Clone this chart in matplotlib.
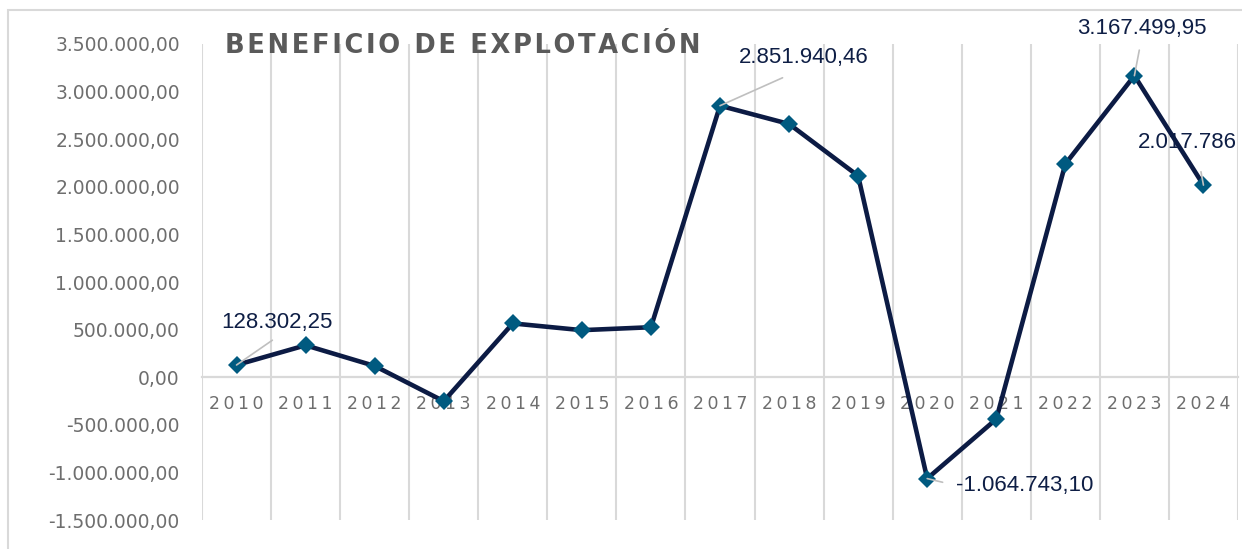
import matplotlib.pyplot as plt
from matplotlib.ticker import FuncFormatter, FixedLocator
from matplotlib.patches import Rectangle

# values (2010-2024)
years = ["2010", "2011", "2012", "2013", "2014", "2015", "2016", "2017",
         "2018", "2019", "2020", "2021", "2022", "2023", "2024"]
beneficio = [128302.25, 335000, 118000, -252000, 565000, 494000, 525000,
             2851940.46, 2660000, 2115000, -1064743.10, -440000, 2240000,
             3167499.95, 2017786]

# only some points carry a label in the original
label_idx = [0, 7, 10, 13, 14]
label_txt = ["128.302,25", "2.851.940,46", "-1.064.743,10", "3.167.499,95", "2.017.786"]

line_col = "#0c1b44"
mark_col = "#005a80"
grid_col = "#d9d9d9"
tick_col = "#6e6e6e"
lab_col = "#0e1e45"


def es_fmt(v, pos=None):
    s = f"{v:,.2f}"
    return s.replace(",", "X").replace(".", ",").replace("X", ".")


fig = plt.figure(figsize=(12.42, 5.49), dpi=100)
ax = fig.add_axes([202 / 1242, 1 - 520 / 549, 1036 / 1242, 476 / 549])

x = list(range(len(years)))
ax.plot(x, beneficio, color=line_col, lw=3.3, marker="D", ms=9,
        mfc=mark_col, mec=mark_col, mew=0, zorder=3)

ax.set_xlim(-0.5, len(years) - 0.5)
ax.set_ylim(-1500000, 3500000)
ax.set_yticks(range(-1500000, 3500001, 500000))
ax.yaxis.set_major_formatter(FuncFormatter(es_fmt))

# category labels with letter spacing
ax.set_xticks(x)
ax.set_xticklabels(["\u2009".join(y) for y in years])
ax.xaxis.set_minor_locator(FixedLocator([i - 0.5 for i in range(len(years) + 1)]))
ax.grid(True, which="minor", axis="x", color=grid_col, lw=1.5)
ax.grid(False, which="major")

for s in ["top", "right", "left"]:
    ax.spines[s].set_visible(False)
ax.spines["bottom"].set_position(("data", 0))
ax.spines["bottom"].set_color(grid_col)
ax.spines["bottom"].set_linewidth(1.6)

ax.tick_params(axis="x", which="both", length=0, pad=13, labelcolor=tick_col)
ax.tick_params(axis="y", length=0, pad=16, labelcolor=tick_col, labelsize=13.5)
for t in ax.get_xticklabels():
    t.set_fontfamily("DejaVu Sans")
    t.set_fontsize(12.5)

# data labels with leader lines
offsets = [(40, 42), (84, 48), (29, -7), (7, 47), (-16, 43)]
relpos = [(0.55, 0), (0.5, 0), (0, 0.5), (0.5, 0), (0.6, 0)]
shrink = [5, 12, 8, 6, 12]
for k, i in enumerate(label_idx):
    ax.annotate(label_txt[k], (x[i], beneficio[i]), xytext=offsets[k],
                textcoords="offset pixels",
                ha="left" if k == 2 else "center", va="center",
                fontsize=16, family="Liberation Sans", color=lab_col,
                arrowprops=dict(arrowstyle="-", color="#bfbfbf", lw=1.2,
                                relpos=relpos[k], shrinkA=shrink[k], shrinkB=0),
                zorder=4)

fig.text(225 / 1242, 1 - 46 / 549, "\u200a".join("BENEFICIO DE EXPLOTACIÓN"),
         fontsize=18.5, family="DejaVu Sans", fontweight="bold",
         color="#5a5a5a", va="center", ha="left")

# light frame around the chart
fig.patches.append(Rectangle((8 / 1242, -0.1), 1.2, 1 - 10 / 549 + 0.1,
                             transform=fig.transFigure, fill=False,
                             ec=grid_col, lw=1.5))

plt.savefig("out.png", dpi=100)
